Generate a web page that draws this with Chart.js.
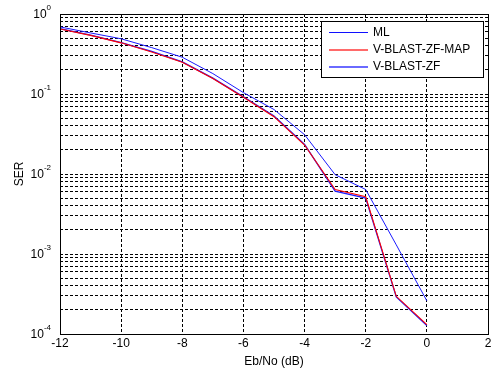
<!DOCTYPE html>
<html>
<head>
<meta charset="utf-8">
<script src="https://cdn.jsdelivr.net/npm/chart.js@4/dist/chart.umd.min.js"></script>
<style>
  html, body { margin: 0; padding: 0; background: #fff; }
  canvas { display: block; }
</style>
</head>
<body>
<canvas id="serChart" width="494" height="371"></canvas>
<script>
// data
const ebno = [-12, -11, -10, -9, -8, -7, -6, -5, -4, -3, -2, -1, 0];
const serML  = [0.655, 0.545, 0.44, 0.34, 0.252, 0.158, 0.092, 0.053, 0.0235, 0.0061, 0.005, 0.00029, 0.000128];
const serMAP = [0.65, 0.54, 0.436, 0.335, 0.25, 0.156, 0.091, 0.052, 0.023, 0.0064, 0.0052, 0.000296, 0.000131];
const serZF  = [0.69, 0.58, 0.49, 0.38, 0.288, 0.18, 0.104, 0.064, 0.031, 0.0098, 0.0064, 0.0013, 0.00026];

const xTicks = [-12, -10, -8, -6, -4, -2, 0, 2];
const yDecades = [-4, -3, -2, -1, 0];   // exponents of the major ticks
const legendNames = ['ML', 'V-BLAST-ZF-MAP', 'V-BLAST-ZF'];
const legendLook = [['#1010ff', 1], ['#ff6a6a', 2], ['#6a6aff', 2]];

const FONT = 'Arial, "Liberation Sans", sans-serif';

function pts(ys) { return ebno.map((x, i) => ({ x: x, y: ys[i] })); }

// ticks for log axis: decades + 2..9 minors
function logTicks() {
  const out = [];
  yDecades.forEach((e, i) => {
    out.push({ value: Math.pow(10, e), major: true });
    if (i < yDecades.length - 1) {
      for (let m = 2; m <= 9; m++) out.push({ value: m * Math.pow(10, e), major: false });
    }
  });
  return out;
}

// MATLAB-ish decorations: box, y labels with exponent, axis titles, legend
const matlabAxes = {
  id: 'matlabAxes',
  afterDraw(chart) {
    const { ctx, chartArea: a, scales } = chart;
    const ys = scales.y;
    ctx.save();

    // axes box
    ctx.strokeStyle = '#000';
    ctx.lineWidth = 1;
    ctx.strokeRect(Math.round(a.left) + 0.5, Math.round(a.top) + 0.5,
                   Math.round(a.right - a.left), Math.round(a.bottom - a.top));

    // y tick labels 10^n
    ctx.fillStyle = '#000';
    yDecades.forEach(e => {
      const py = ys.getPixelForValue(Math.pow(10, e));
      const sup = String(e);
      ctx.font = '8px ' + FONT;
      const supW = ctx.measureText(sup).width;
      const supX = a.left - 9 - supW;
      ctx.textAlign = 'left';
      ctx.textBaseline = 'middle';
      ctx.fillText(sup, supX, py - 6);
      ctx.font = '12px ' + FONT;
      ctx.textAlign = 'right';
      ctx.fillText('10', supX, py + 0.5);
    });

    // axis titles
    ctx.font = '12px ' + FONT;
    ctx.textAlign = 'center';
    ctx.textBaseline = 'middle';
    ctx.fillText('Eb/No (dB)', (a.left + a.right) / 2, 362);
    ctx.save();
    ctx.translate(20, (a.top + a.bottom) / 2);
    ctx.rotate(-Math.PI / 2);
    ctx.fillText('SER', 0, 0);
    ctx.restore();

    // legend box
    const lx = 321, ly = 21, lw = 162, lh = 56;
    ctx.fillStyle = '#fff';
    ctx.fillRect(lx, ly, lw, lh);
    ctx.strokeStyle = '#000';
    ctx.lineWidth = 1;
    ctx.strokeRect(lx + 0.5, ly + 0.5, lw, lh);
    const rows = [32, 49.5, 66.5];
    legendNames.forEach((name, i) => {
      ctx.strokeStyle = legendLook[i][0];
      ctx.lineWidth = legendLook[i][1];
      ctx.beginPath();
      ctx.moveTo(329, Math.round(rows[i]) + (legendLook[i][1] === 1 ? 0.5 : 0));
      ctx.lineTo(368, Math.round(rows[i]) + (legendLook[i][1] === 1 ? 0.5 : 0));
      ctx.stroke();
      ctx.fillStyle = '#000';
      ctx.textAlign = 'left';
      ctx.textBaseline = 'middle';
      ctx.font = '12px ' + FONT;
      ctx.fillText(name, 373, rows[i] + 0.5);
    });
    ctx.restore();
  }
};

new Chart(document.getElementById('serChart'), {
  type: 'line',
  data: {
    datasets: [
      { label: legendNames[0], data: pts(serML),  borderColor: '#1a1aff', borderWidth: 1.3, order: 1 },
      { label: legendNames[1], data: pts(serMAP), borderColor: '#ff0000', borderWidth: 1.1, order: 0 },
      { label: legendNames[2], data: pts(serZF),  borderColor: '#1a1aff', borderWidth: 1,   order: 2 }
    ].map(d => Object.assign(d, { pointRadius: 0, fill: false, tension: 0 }))
  },
  options: {
    responsive: false,
    animation: false,
    devicePixelRatio: 1,
    layout: { padding: { left: 0, right: 6, top: 14, bottom: 0 } },
    plugins: { legend: { display: false }, tooltip: { enabled: false } },
    scales: {
      x: {
        type: 'linear',
        min: xTicks[0],
        max: xTicks[xTicks.length - 1],
        afterBuildTicks: s => { s.ticks = xTicks.map(v => ({ value: v })); },
        afterFit: s => { s.height = 37; },
        ticks: { color: '#000', font: { family: FONT, size: 12 }, padding: 2, maxRotation: 0 },
        grid: { color: '#000', lineWidth: 1, drawTicks: false },
        border: { display: false, dash: [3, 2] }
      },
      y: {
        type: 'logarithmic',
        min: 1e-4,
        max: 1,
        afterBuildTicks: s => { s.ticks = logTicks(); },
        afterFit: s => { s.width = 60; },
        ticks: { display: false },
        grid: { color: '#000', lineWidth: 1, drawTicks: false },
        border: { display: false, dash: [3, 2] }
      }
    }
  },
  plugins: [matlabAxes]
});
</script>
</body>
</html>
